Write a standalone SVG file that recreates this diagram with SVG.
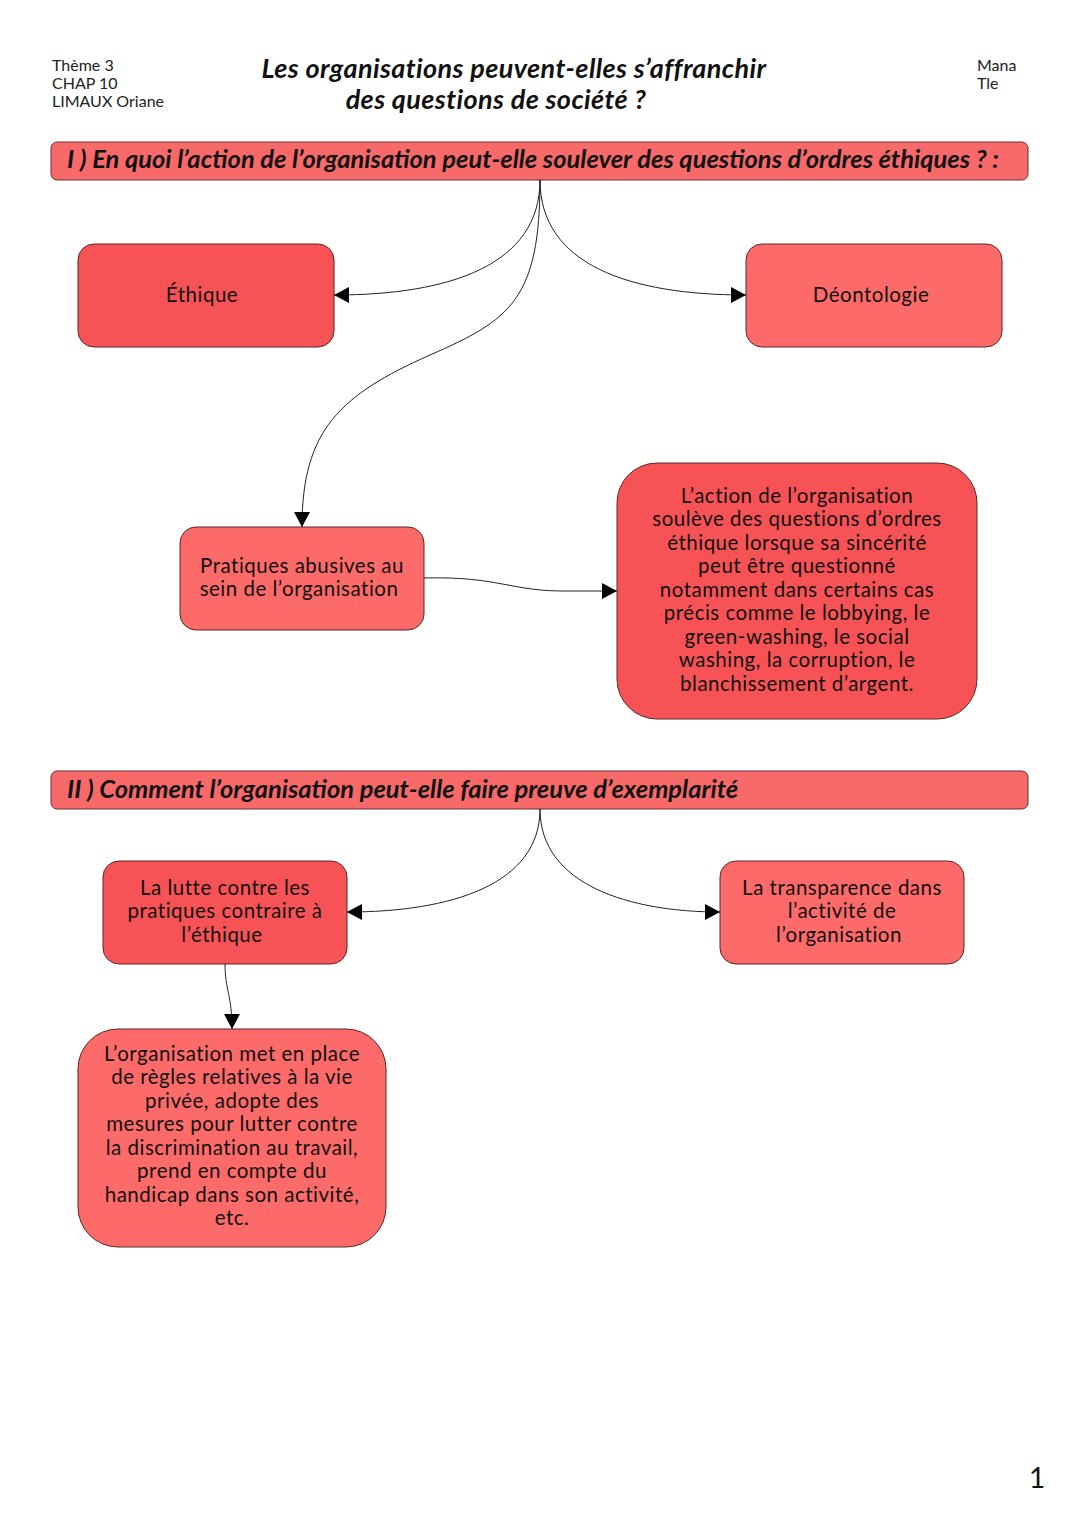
<svg xmlns="http://www.w3.org/2000/svg" width="1080" height="1527" viewBox="0 0 1080 1527">
<defs>
<marker id="arr" markerUnits="userSpaceOnUse" markerWidth="16" markerHeight="18" refX="15" refY="8" orient="auto" viewBox="0 0 16 16">
<path d="M0,0 L15,8 L0,16 Z" fill="#000"/>
</marker>
<style>
.hd{font-family:Lato,"Open Sans","Liberation Sans",sans-serif;font-size:16px;fill:#222}
.ttl{font-family:Lato,"Open Sans","Liberation Sans",sans-serif;font-size:27px;letter-spacing:0.4px;font-weight:bold;font-style:italic;fill:#111}
.bn{fill:#F86A6A;stroke:#6b2e2e;stroke-width:1}
.bt{font-family:Lato,"Open Sans","Liberation Sans",sans-serif;font-size:25.5px;font-weight:bold;font-style:italic;fill:#111}
.dk{fill:#F75356;stroke:#5a2626;stroke-width:1}
.lt{fill:#FC6A6A;stroke:#5a2626;stroke-width:1}
.tx{font-family:Lato,"Open Sans","Liberation Sans",sans-serif;font-size:20.5px;letter-spacing:0.5px;fill:#111;text-anchor:middle}
.cn{fill:none;stroke:#222;stroke-width:1}
</style>
</defs>
<rect width="1080" height="1527" fill="#fff"/>
<g id="header">
<text class="hd" x="52" y="71">Thème 3</text>
<text class="hd" x="52" y="89">CHAP 10</text>
<text class="hd" x="52" y="107">LIMAUX Oriane</text>
<text class="ttl" x="514" y="78" text-anchor="middle">Les organisations peuvent-elles s’affranchir</text>
<text class="ttl" x="496" y="109" text-anchor="middle">des questions de société ?</text>
<text class="hd" x="977" y="71">Mana</text>
<text class="hd" x="977" y="89">Tle</text>
</g>
<g id="banner1">
<rect class="bn" x="51" y="142" width="977" height="38" rx="6"/>
<text class="bt" x="67" y="168">I ) En quoi l’action de l’organisation peut-elle soulever des questions d’ordres éthiques ? :</text>
</g>
<g id="ethique">
<rect class="dk" x="78" y="244" width="256" height="103" rx="16"/>
<text class="tx" x="202" y="302">Éthique</text>
</g>
<g id="deontologie">
<rect class="lt" x="746" y="244" width="256" height="103" rx="16"/>
<text class="tx" x="871" y="302">Déontologie</text>
</g>
<g id="pratiques">
<rect class="lt" x="180" y="527" width="244" height="103" rx="16"/>
<text class="tx" x="302" y="573">Pratiques abusives au</text>
<text class="tx" x="299" y="596">sein de l’organisation</text>
</g>
<g id="action">
<rect class="dk" x="617" y="463" width="360" height="256" rx="40"/>
<text class="tx" x="797" y="503">L’action de l’organisation</text>
<text class="tx" x="797" y="526">soulève des questions d’ordres</text>
<text class="tx" x="797" y="550">éthique lorsque sa sincérité</text>
<text class="tx" x="797" y="573">peut être questionné</text>
<text class="tx" x="797" y="597">notamment dans certains cas</text>
<text class="tx" x="797" y="620">précis comme le lobbying, le</text>
<text class="tx" x="797" y="644">green-washing, le social</text>
<text class="tx" x="797" y="667">washing, la corruption, le</text>
<text class="tx" x="797" y="691">blanchissement d’argent.</text>
</g>
<g id="banner2">
<rect class="bn" x="51" y="771" width="977" height="38" rx="6"/>
<text class="bt" x="67" y="798">II ) Comment l’organisation peut-elle faire preuve d’exemplarité</text>
</g>
<g id="lutte">
<rect class="dk" x="103" y="861" width="244" height="103" rx="16"/>
<text class="tx" x="225" y="895">La lutte contre les</text>
<text class="tx" x="225" y="918">pratiques contraire à</text>
<text class="tx" x="222" y="942">l’éthique</text>
</g>
<g id="transparence">
<rect class="lt" x="720" y="861" width="244" height="103" rx="16"/>
<text class="tx" x="842" y="895">La transparence dans</text>
<text class="tx" x="842" y="918">l’activité de</text>
<text class="tx" x="839" y="942">l’organisation</text>
</g>
<g id="mesures">
<rect class="lt" x="78" y="1029" width="308" height="218" rx="40"/>
<text class="tx" x="232" y="1061">L’organisation met en place</text>
<text class="tx" x="232" y="1084">de règles relatives à la vie</text>
<text class="tx" x="232" y="1108">privée, adopte des</text>
<text class="tx" x="232" y="1131">mesures pour lutter contre</text>
<text class="tx" x="232" y="1155">la discrimination au travail,</text>
<text class="tx" x="232" y="1178">prend en compte du</text>
<text class="tx" x="232" y="1202">handicap dans son activité,</text>
<text class="tx" x="232" y="1225">etc.</text>
</g>
<g id="connectors">
<path class="cn" d="M540,180 C540,265 450,295 334,295" marker-end="url(#arr)"/>
<path class="cn" d="M540,180 C540,265 630,295 746,295" marker-end="url(#arr)"/>
<path class="cn" d="M540,180 C540,300 510,320 430,355 C340,395 302,430 302,527" marker-end="url(#arr)"/>
<path class="cn" d="M424,578 C500,576 510,592 570,591 L617,591" marker-end="url(#arr)"/>
<path class="cn" d="M540,809 C540,885 450,912 347,912" marker-end="url(#arr)"/>
<path class="cn" d="M540,809 C540,885 630,912 720,912" marker-end="url(#arr)"/>
<path class="cn" d="M225,964 C225,990 232,995 232,1029" marker-end="url(#arr)"/>
</g>
<text x="1037" y="1488" font-family="Lato,'Open Sans','Liberation Sans',sans-serif" font-size="28" fill="#111" text-anchor="middle">1</text>
</svg>
